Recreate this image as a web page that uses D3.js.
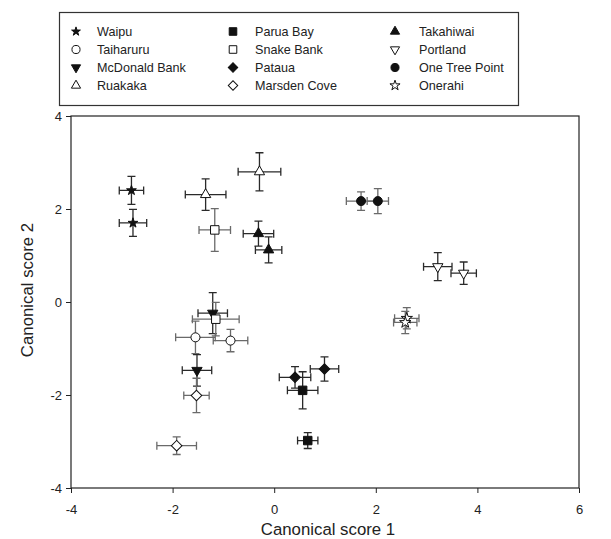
<!DOCTYPE html>
<html lang="en">
<head>
  <meta charset="UTF-8">
  <title>Canonical scores</title>
  <style>
      body{
          margin:0;
          background:#fff;
      }
      text{
          font-family: "Liberation Sans", Arial, sans-serif;
          fill:#222;
      }
      .axis .domain {
          display: none;
      }
      .axis line{
          stroke:#222;
      }
  </style>
</head>
<body>
    <svg width="611" height="539"></svg>
    <script src="https://d3js.org/d3.v7.min.js"></script>
    <script>

        // data: one entry per site mean
        var sites = ["Waipu","Waipu","Ruakaka","Ruakaka","Snake Bank","Takahiwai","Takahiwai",
                     "One Tree Point","One Tree Point","Portland","Portland","Onerahi","Onerahi",
                     "McDonald Bank","Snake Bank","Taiharuru","Taiharuru","McDonald Bank",
                     "Marsden Cove","Marsden Cove","Pataua","Pataua","Parua Bay","Parua Bay"];
        var xs    = [-2.81,-2.78,-1.35,-0.29,-1.17,-0.31,-0.11, 1.71, 2.04, 3.22, 3.73, 2.61, 2.58,
                     -1.21,-1.15,-1.55,-0.86,-1.52,-1.53,-1.92, 0.41, 0.99, 0.56, 0.66];
        var ys    = [ 2.40, 1.70, 2.31, 2.80, 1.55, 1.47, 1.12, 2.17, 2.17, 0.76, 0.62,-0.35,-0.44,
                     -0.24,-0.37,-0.76,-0.83,-1.47,-2.01,-3.09,-1.62,-1.44,-1.90,-2.98];
        var xErr  = [ 0.24, 0.27, 0.40, 0.42, 0.31, 0.30, 0.26, 0.29, 0.21, 0.28, 0.25, 0.24, 0.23,
                      0.29, 0.46, 0.39, 0.34, 0.29, 0.25, 0.39, 0.31, 0.28, 0.30, 0.20];
        var yErr  = [ 0.30, 0.29, 0.34, 0.41, 0.46, 0.27, 0.28, 0.20, 0.27, 0.30, 0.24, 0.23, 0.24,
                      0.44, 0.36, 0.35, 0.24, 0.34, 0.37, 0.19, 0.23, 0.26, 0.40, 0.17];

        var legendCols = [
            ["Waipu","Taiharuru","McDonald Bank","Ruakaka"],
            ["Parua Bay","Snake Bank","Pataua","Marsden Cove"],
            ["Takahiwai","Portland","One Tree Point","Onerahi"]
        ];
        var xTicks = [-4,-2,0,2,4,6];
        var yTicks = [-4,-2,0,2,4];

        // marker look per site
        var look = {
            "Waipu":          {type: d3.symbolStar,     size: 30, fill: "#111", rot: 0},
            "Taiharuru":      {type: d3.symbolCircle,   size: 64, fill: "#fff", rot: 0},
            "McDonald Bank":  {type: d3.symbolTriangle, size: 46, fill: "#111", rot: 180},
            "Ruakaka":        {type: d3.symbolTriangle, size: 46, fill: "#fff", rot: 0},
            "Parua Bay":      {type: d3.symbolSquare,   size: 72, fill: "#111", rot: 0},
            "Snake Bank":     {type: d3.symbolSquare,   size: 72, fill: "#fff", rot: 0},
            "Pataua":         {type: d3.symbolSquare,   size: 56, fill: "#111", rot: 45},
            "Marsden Cove":   {type: d3.symbolSquare,   size: 56, fill: "#fff", rot: 45},
            "Takahiwai":      {type: d3.symbolTriangle, size: 46, fill: "#111", rot: 0},
            "Portland":       {type: d3.symbolTriangle, size: 46, fill: "#fff", rot: 180},
            "One Tree Point": {type: d3.symbolCircle,   size: 64, fill: "#111", rot: 0},
            "Onerahi":        {type: d3.symbolStar,     size: 40, fill: "#fff", rot: 0}
        };
        var greyBars = {"Snake Bank": 1, "Taiharuru": 1, "Marsden Cove": 1, "Onerahi": 1, "One Tree Point": 1};

        var data = sites.map(function(s, i) {
            return {site: s, x: xs[i], y: ys[i], ex: xErr[i], ey: yErr[i]};
        });

        var svg = d3.select("svg");

        var x = d3.scaleLinear().domain([-4, 6]).range([71, 579]);
        var y = d3.scaleLinear().domain([-4, 4]).range([488, 116]);

        // axes
        svg.append("g")
            .attr("class", "axis")
            .attr("transform", "translate(0,488)")
            .call(d3.axisBottom(x).tickValues(xTicks).tickSize(5).tickPadding(12).tickFormat(d3.format("d")))
            .selectAll("text").style("font-size", "13px").style("font-family", null);

        svg.append("g")
            .attr("class", "axis")
            .attr("transform", "translate(71,0)")
            .call(d3.axisLeft(y).tickValues(yTicks).tickSize(5).tickPadding(4).tickFormat(d3.format("d")))
            .selectAll("text").style("font-size", "13px").style("font-family", null);

        svg.selectAll(".axis text").text(function(d) { return d < 0 ? "-" + Math.abs(d) : d; });

        svg.append("rect")
            .attr("x", 71).attr("y", 116)
            .attr("width", 508).attr("height", 372)
            .attr("fill", "none").attr("stroke", "#222").attr("stroke-width", 1.2);

        svg.append("text")
            .attr("x", 328).attr("y", 535)
            .attr("text-anchor", "middle")
            .style("font-size", "16.8px")
            .text("Canonical score 1");

        svg.append("text")
            .attr("transform", "translate(33,290) rotate(-90)")
            .attr("text-anchor", "middle")
            .style("font-size", "16.8px")
            .text("Canonical score 2");

        // error bars
        var cap = 4;
        var bars = svg.append("g").selectAll("g")
            .data(data)
            .enter().append("g")
            .attr("stroke", function(d) { return greyBars[d.site] ? "#6a6a6a" : "#2a2a2a"; })
            .attr("stroke-width", 1.3)
            .attr("fill", "none");

        bars.append("path")
            .attr("d", function(d) {
                var cy = y(d.y), x0 = x(d.x - d.ex), x1 = x(d.x + d.ex);
                return "M" + x0 + "," + cy + "H" + x1 +
                       "M" + x0 + "," + (cy - cap) + "V" + (cy + cap) +
                       "M" + x1 + "," + (cy - cap) + "V" + (cy + cap);
            });
        bars.append("path")
            .attr("d", function(d) {
                var cx = x(d.x), y0 = y(d.y - d.ey), y1 = y(d.y + d.ey);
                return "M" + cx + "," + y0 + "V" + y1 +
                       "M" + (cx - cap) + "," + y0 + "H" + (cx + cap) +
                       "M" + (cx - cap) + "," + y1 + "H" + (cx + cap);
            });

        function symbolPath(site, scale) {
            var l = look[site];
            return d3.symbol().type(l.type).size(l.size * (scale || 1))();
        }

        // markers
        svg.append("g").selectAll("path")
            .data(data)
            .enter().append("path")
            .attr("d", function(d) { return symbolPath(d.site); })
            .attr("transform", function(d) {
                return "translate(" + x(d.x) + "," + y(d.y) + ") rotate(" + look[d.site].rot + ")";
            })
            .attr("fill", function(d) { return look[d.site].fill; })
            .attr("stroke", "#111")
            .attr("stroke-width", 1);

        // legend
        var legend = svg.append("g");
        legend.append("rect")
            .attr("x", 59.5).attr("y", 12.5)
            .attr("width", 459).attr("height", 93)
            .attr("fill", "#fff").attr("stroke", "#333").attr("stroke-width", 1.2);

        var colSym = [76, 233, 395], colText = [97, 255, 419];
        legendCols.forEach(function(col, c) {
            col.forEach(function(site, r) {
                var cy = 31.5 + r * 18;
                legend.append("path")
                    .attr("d", symbolPath(site, 0.8))
                    .attr("transform", "translate(" + colSym[c] + "," + cy + ") rotate(" + look[site].rot + ")")
                    .attr("fill", look[site].fill)
                    .attr("stroke", "#111")
                    .attr("stroke-width", 1);
                legend.append("text")
                    .attr("x", colText[c]).attr("y", cy)
                    .attr("dy", "0.35em")
                    .style("font-size", "12.6px")
                    .text(site);
            });
        });

    </script>
</body>
</html>
